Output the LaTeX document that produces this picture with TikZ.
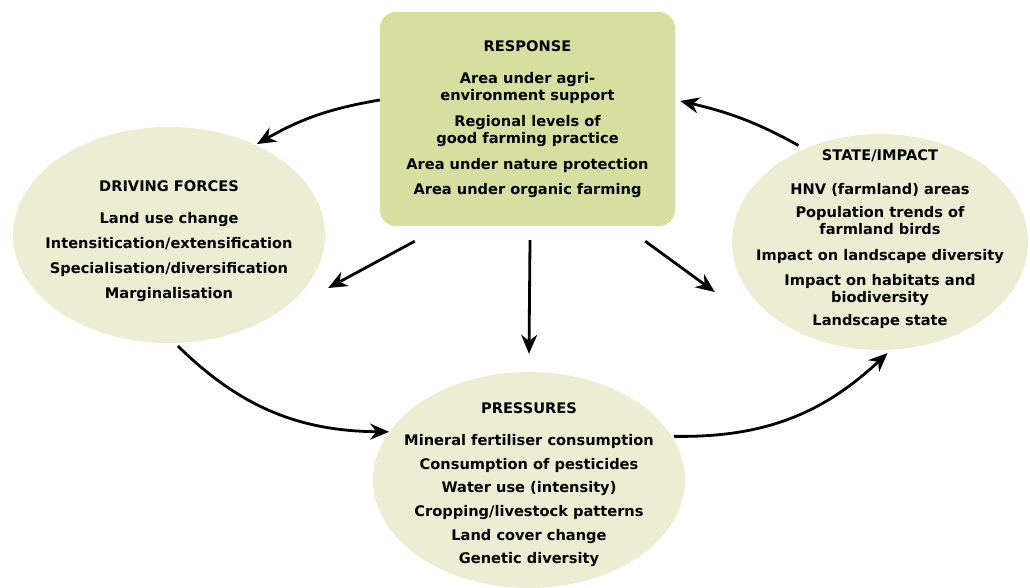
\documentclass[tikz,border=0pt]{standalone}
\usepackage{fontspec}
\setmainfont{DejaVu Sans}
\usepackage{tikz}
\usetikzlibrary{arrows.meta,positioning,shapes.geometric}
\usepackage{xcolor}
\definecolor{respgreen}{RGB}{214,222,160}
\definecolor{blobcream}{RGB}{237,237,212}

\begin{document}
\begin{tikzpicture}[x=1pt,y=1pt,
    box/.style={rectangle,rounded corners=16pt,fill=respgreen,
                minimum width=295pt,minimum height=214pt,align=center,
                font=\fontsize{14.6}{17}\selectfont\bfseries},
    blob/.style={ellipse,fill=blobcream,inner sep=0pt},
    txt/.style={align=center,font=\fontsize{14.6}{17}\selectfont\bfseries},
    arr/.style={-{Stealth[length=19pt,width=16pt]},line width=2.8pt},
  ]
    \useasboundingbox (0,0) rectangle (1030,588);
    \node[box] (resp) at (527.5,469)
      {RESPONSE\\[15pt]
       Area under agri-\\environment support\\[9pt]
       Regional levels of\\good farming practice\\[9pt]
       Area under nature protection\\[8pt]
       Area under organic farming};
    \node[blob,minimum width=312pt,minimum height=216pt] (drive) at (169,353) {};
    \node[blob,minimum width=296pt,minimum height=216pt] (state) at (880,346) {};
    \node[blob,minimum width=312pt,minimum height=216pt] (press) at (529,108) {};
    \node[txt] (drivetxt) at ([yshift=-6pt]drive.center)
      {DRIVING FORCES\\[15pt]
       Land use change\\[8pt]
       Intensitication/extensification\\[8pt]
       Specialisation/diversification\\[8pt]
       Marginalisation};
    \node[txt] (statetxt) at ([yshift=3pt]state.center)
      {STATE/IMPACT\\[17pt]
       HNV (farmland) areas\\[6pt]
       Population trends of\\farmland birds\\[9pt]
       Impact on landscape diversity\\[8pt]
       Impact on habitats and\\biodiversity\\[6pt]
       Landscape state};
    \node[txt] (presstxt) at ([yshift=-5pt]press.center)
      {PRESSURES\\[15pt]
       Mineral fertiliser consumption\\[7pt]
       Consumption of pesticides\\[6pt]
       Water use (intensity)\\[7pt]
       Cropping/livestock patterns\\[7pt]
       Land cover change\\[6pt]
       Genetic diversity};
    % links round the cycle
    \draw[arr,bend right=10] ([yshift=19pt]resp.west) to ([shift={(-1,2)}]drive.45);
    \draw[arr,bend right=8,shorten <=7pt] (state.129) to ([shift={(5,18)}]resp.east);
    \draw[arr] ([shift={(35,-15)}]resp.south west) -- ([shift={(3,-53)}]drive.east);
    \draw[arr] ([shift={(2.5,-14)}]resp.south) -- ([yshift=18pt]press.north);
    \draw[arr] ([shift={(-30,-15)}]resp.south east) -- ([shift={(-17,-50)}]state.west);
    \draw[arr,bend right=22,shorten <=4pt] ([xshift=6pt]drive.south) to (press.161);
    \draw[arr,bend right=22,shorten <=2pt] (press.17) to ([yshift=-3pt]state.-86);
  \end{tikzpicture}
\end{document}
